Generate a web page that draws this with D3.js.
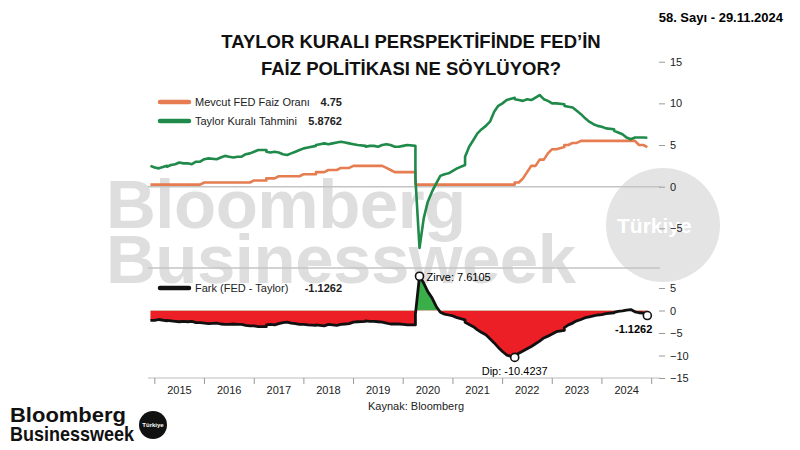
<!DOCTYPE html>
<html>
<head>
<meta charset="utf-8">
<script src="https://cdn.jsdelivr.net/npm/d3@7"></script>
<style>
  html, body { margin: 0; padding: 0; background: #fff; }
  svg { display: block; font-family: "Liberation Sans", Arial, sans-serif; }
</style>
</head>
<body>
<svg id="chart" width="800" height="450"></svg>
<script>
// Monthly data, Nov 2014 .. Nov 2024 (month-end)
const firstMonth = new Date(2014, 10, 30);

// Mevcut FED faiz oranı (upper bound)
const fedRate = [
  0.25, 0.25,
  0.25, 0.25, 0.25, 0.25, 0.25, 0.25, 0.25, 0.25, 0.25, 0.25, 0.25, 0.5,
  0.5, 0.5, 0.5, 0.5, 0.5, 0.5, 0.5, 0.5, 0.5, 0.5, 0.5, 0.75,
  0.75, 0.75, 1.0, 1.0, 1.0, 1.25, 1.25, 1.25, 1.25, 1.25, 1.25, 1.5,
  1.5, 1.5, 1.75, 1.75, 1.75, 2.0, 2.0, 2.0, 2.25, 2.25, 2.25, 2.5,
  2.5, 2.5, 2.5, 2.5, 2.5, 2.5, 2.5, 2.25, 2.0, 1.75, 1.75, 1.75,
  1.75, 1.75, 0.25, 0.25, 0.25, 0.25, 0.25, 0.25, 0.25, 0.25, 0.25, 0.25,
  0.25, 0.25, 0.25, 0.25, 0.25, 0.25, 0.25, 0.25, 0.25, 0.25, 0.25, 0.25,
  0.25, 0.25, 0.5, 0.5, 1.0, 1.75, 2.5, 2.5, 3.25, 3.25, 4.0, 4.5,
  4.5, 4.75, 5.0, 5.0, 5.25, 5.25, 5.5, 5.5, 5.5, 5.5, 5.5, 5.5,
  5.5, 5.5, 5.5, 5.5, 5.5, 5.5, 5.5, 5.5, 5.0, 5.0, 4.75
];

// Taylor kuralı tahmini
const taylorRate = [
  2.5, 2.3,
  2.2, 2.5, 2.4, 2.6, 2.7, 2.9, 2.8, 2.8, 2.7, 3.0, 3.0, 3.3,
  3.4, 3.3, 3.3, 3.5, 3.7, 3.6, 3.5, 3.6, 3.6, 3.9, 4.0, 4.2,
  4.4, 4.4, 4.2, 4.1, 4.2, 4.1, 3.9, 3.8, 4.0, 4.2, 4.4, 4.6,
  4.7, 4.9, 5.0, 5.1, 5.2, 5.1, 5.2, 5.3, 5.4, 5.3, 5.2, 5.1,
  5.0, 4.9, 4.8, 4.9, 4.9, 4.8, 5.0, 5.1, 5.0, 4.8, 4.8, 4.9,
  5.0, 4.9, 1.0, -7.36, -3.8, -1.8, -0.6, 0.4, 1.3, 1.5, 1.6, 1.9,
  2.2, 2.6, 3.6, 4.8, 5.6, 6.4, 6.9, 7.3, 7.8, 9.0, 9.7, 10.0,
  10.4, 10.67, 10.5, 10.4, 10.3, 10.5, 10.4, 10.7, 11.0, 10.5, 10.3, 10.0,
  10.0, 9.9, 9.7, 9.6, 9.5, 9.1, 8.7, 8.2, 7.8, 7.5, 7.3, 7.2,
  7.0, 6.9, 6.7, 6.5, 6.3, 5.9, 5.7, 5.9, 5.9, 5.9, 5.8762
];

// Fark (FED - Taylor)
const farkValues = [
  -2.2, -2.2,
  -2.0, -2.3, -2.2, -2.3, -2.4, -2.5, -2.4, -2.5, -2.4, -2.7, -2.7, -2.8,
  -2.9, -2.8, -2.8, -3.0, -3.1, -3.1, -3.0, -3.1, -3.1, -3.3, -3.4, -3.4,
  -3.6, -3.6, -3.2, -3.1, -3.2, -2.9, -2.7, -2.6, -2.8, -2.9, -3.1, -3.1,
  -3.2, -3.3, -3.2, -3.3, -3.4, -3.1, -3.2, -3.3, -3.1, -3.0, -2.9, -2.6,
  -2.5, -2.4, -2.3, -2.4, -2.4, -2.5, -2.6, -2.8, -3.0, -3.0, -3.0, -3.1,
  -3.2, -3.2, -0.8, 7.6105, 6.1, 4.2, 2.8, 0.9, -0.4, -0.8, -1.0, -1.2,
  -1.6, -2.1, -2.6, -3.1, -3.6, -4.3, -4.9, -5.4, -6.3, -7.2, -8.2, -9.1,
  -9.9, -10.4237, -10.0, -9.5, -9.0, -8.5, -8.0, -7.4, -6.8, -6.1, -5.7, -5.2,
  -4.7, -4.4, -3.8, -3.2, -2.8, -2.3, -2.0, -1.6, -1.4, -1.2, -1.0, -0.9,
  -0.7, -0.5, -0.4, -0.2, -0.1, 0.1, 0.2, -0.3, -0.5, -0.6, -1.1262
];

const years = [2015, 2016, 2017, 2018, 2019, 2020, 2021, 2022, 2023, 2024];
const topTicks = [15, 10, 5, 0, -5];
const bottomTicks = [5, 0, -5, -10, -15];

const months = fedRate.map((_, i) => d3.timeMonth.offset(firstMonth, i));
const monthEnd = (d) => new Date(d.getFullYear(), d.getMonth() + 1, 0);
const dates = months.map(monthEnd);

const svg = d3.select("#chart");

const x = d3.scaleTime()
  .domain([new Date(2015, 0, 1), new Date(2025, 0, 1)])
  .range([154.8, 651.7]);
const yTop = d3.scaleLinear().domain([-10, 15]).range([270, 61.7]);
const yBot = d3.scaleLinear().domain([-15, 5]).range([378, 288]);

// Watermark
const wm = svg.append("g").attr("fill", "#dedede").style("font-weight", "bold");
wm.append("text").attr("x", 106).attr("y", 228).style("font-size", "69px")
  .style("letter-spacing", "-0.5px").text("Bloomberg");
wm.append("text").attr("x", 106).attr("y", 283).style("font-size", "69px")
  .style("letter-spacing", "-0.5px").text("Businessweek");
wm.append("circle").attr("cx", 663).attr("cy", 225).attr("r", 57).attr("fill", "#e4e4e4");
wm.append("text").attr("x", 617).attr("y", 233).attr("fill", "#fff")
  .style("font-size", "21px").text("Türkiye");

// Title and issue
svg.append("text").attr("x", 783).attr("y", 22).attr("text-anchor", "end")
  .style("font-size", "13px").style("font-weight", "bold").text("58. Sayı - 29.11.2024");
const title = svg.append("text").attr("text-anchor", "middle")
  .style("font-size", "18.5px").style("font-weight", "bold").attr("fill", "#111");
title.append("tspan").attr("x", 411).attr("y", 48).text("TAYLOR KURALI PERSPEKTİFİNDE FED’İN");
title.append("tspan").attr("x", 411).attr("y", 75).text("FAİZ POLİTİKASI NE SÖYLÜYOR?");

// Grid lines
svg.append("line").attr("x1", 148).attr("x2", 660)
  .attr("y1", yTop(0)).attr("y2", yTop(0)).attr("stroke", "#c4c4c4").attr("stroke-width", 1.5);
svg.append("line").attr("x1", 148).attr("x2", 660)
  .attr("y1", 268).attr("y2", 268).attr("stroke", "#c4c4c4").attr("stroke-width", 1.5);

// Right axes
function rightAxis(scale, ticks) {
  const g = svg.append("g").attr("transform", "translate(659,0)")
    .call(d3.axisRight(scale).tickValues(ticks).tickSize(6).tickPadding(5));
  g.select(".domain").remove();
  g.selectAll(".tick line").attr("stroke", "#999");
  g.selectAll(".tick text").attr("fill", "#222")
    .style("font-size", "11px").style("font-family", "Liberation Sans, Arial, sans-serif");
}
rightAxis(yTop, topTicks);
rightAxis(yBot, bottomTicks);

// Top lines
const lineTop = (vals) => d3.line().x((d, i) => x(dates[i])).y((d) => yTop(d))(vals);
svg.append("path").attr("d", lineTop(fedRate)).attr("fill", "none")
  .attr("stroke", "#e57d50").attr("stroke-width", 2.6).attr("stroke-linejoin", "round");
svg.append("path").attr("d", lineTop(taylorRate)).attr("fill", "none")
  .attr("stroke", "#1f8a4a").attr("stroke-width", 2.6).attr("stroke-linejoin", "round");

// Bottom area (red below zero, green above)
const defs = svg.append("defs");
defs.append("clipPath").attr("id", "clipPos").append("rect")
  .attr("x", 0).attr("y", 0).attr("width", 800).attr("height", yBot(0));
defs.append("clipPath").attr("id", "clipNeg").append("rect")
  .attr("x", 0).attr("y", yBot(0)).attr("width", 800).attr("height", 450 - yBot(0));
const area = d3.area().x((d, i) => x(dates[i])).y0(yBot(0)).y1((d) => yBot(d));
svg.append("path").attr("d", area(farkValues)).attr("fill", "#3aae48").attr("clip-path", "url(#clipPos)");
svg.append("path").attr("d", area(farkValues)).attr("fill", "#ec1e26").attr("clip-path", "url(#clipNeg)");
const lineBot = d3.line().x((d, i) => x(dates[i])).y((d) => yBot(d));
svg.append("path").attr("d", lineBot(farkValues)).attr("fill", "none")
  .attr("stroke", "#111").attr("stroke-width", 2.8).attr("stroke-linejoin", "round");

// Markers
const iMax = d3.maxIndex(farkValues);
const iMin = d3.minIndex(farkValues);
const iLast = farkValues.length - 1;
[iMax, iMin, iLast].forEach((i) => {
  svg.append("circle").attr("cx", x(dates[i])).attr("cy", yBot(farkValues[i])).attr("r", 4)
    .attr("fill", "#fff").attr("stroke", "#111").attr("stroke-width", 1.6);
});
svg.append("text").attr("x", x(dates[iMax]) + 7).attr("y", yBot(farkValues[iMax]) + 5)
  .style("font-size", "11px").text("Zirve: " + farkValues[iMax]);
svg.append("text").attr("x", x(dates[iMin])).attr("y", yBot(farkValues[iMin]) + 18)
  .attr("text-anchor", "middle").style("font-size", "11px").text("Dip: " + farkValues[iMin]);
svg.append("text").attr("x", x(dates[iLast]) + 5).attr("y", yBot(farkValues[iLast]) + 17)
  .attr("text-anchor", "end").style("font-size", "11px").style("font-weight", "bold")
  .text(farkValues[iLast]);

// X axis
svg.append("line").attr("x1", 148).attr("x2", 660).attr("y1", 378).attr("y2", 378)
  .attr("stroke", "#bbb").attr("stroke-width", 1.2);
const xa = svg.append("g").attr("transform", "translate(0,378)");
xa.selectAll("line.yt").data(years.concat([years[years.length - 1] + 1])).enter()
  .append("line").attr("class", "yt")
  .attr("x1", (d) => x(new Date(d, 0, 1))).attr("x2", (d) => x(new Date(d, 0, 1)))
  .attr("y1", 0).attr("y2", 6).attr("stroke", "#999");
xa.selectAll("text").data(years).enter().append("text")
  .attr("x", (d) => x(new Date(d, 6, 1))).attr("y", 16).attr("text-anchor", "middle")
  .style("font-size", "11px").attr("fill", "#222").text((d) => d);
svg.append("text").attr("x", 416).attr("y", 410).attr("text-anchor", "middle")
  .style("font-size", "11px").attr("fill", "#222").text("Kaynak: Bloomberg");

// Legends
function legendRow(y0, color, label, value) {
  svg.append("line").attr("x1", 160).attr("x2", 189).attr("y1", y0).attr("y2", y0)
    .attr("stroke", color).attr("stroke-width", 4.5).attr("stroke-linecap", "round");
  svg.append("text").attr("x", 195).attr("y", y0 + 4).style("font-size", "11px")
    .attr("fill", "#222").text(label);
  svg.append("text").attr("x", 342).attr("y", y0 + 4).attr("text-anchor", "end")
    .style("font-size", "11px").style("font-weight", "bold").attr("fill", "#222").text(value);
}
legendRow(102, "#e57d50", "Mevcut FED Faiz Oranı", fedRate[fedRate.length - 1]);
legendRow(121, "#1f8a4a", "Taylor Kuralı Tahmini", taylorRate[taylorRate.length - 1]);
legendRow(288, "#111", "Fark (FED - Taylor)", farkValues[iLast]);

// Footer logo
const logo = svg.append("g").style("font-weight", "bold").attr("fill", "#111");
logo.append("text").attr("x", 10).attr("y", 422).style("font-size", "21px")
  .attr("textLength", 116).attr("lengthAdjust", "spacingAndGlyphs").text("Bloomberg");
logo.append("text").attr("x", 10).attr("y", 441).style("font-size", "21px")
  .attr("textLength", 124).attr("lengthAdjust", "spacingAndGlyphs").text("Businessweek");
logo.append("circle").attr("cx", 153).attr("cy", 425).attr("r", 14).attr("fill", "#111");
logo.append("text").attr("x", 153).attr("y", 427).attr("text-anchor", "middle")
  .attr("fill", "#fff").style("font-size", "6px").text("Türkiye");
</script>
</body>
</html>
